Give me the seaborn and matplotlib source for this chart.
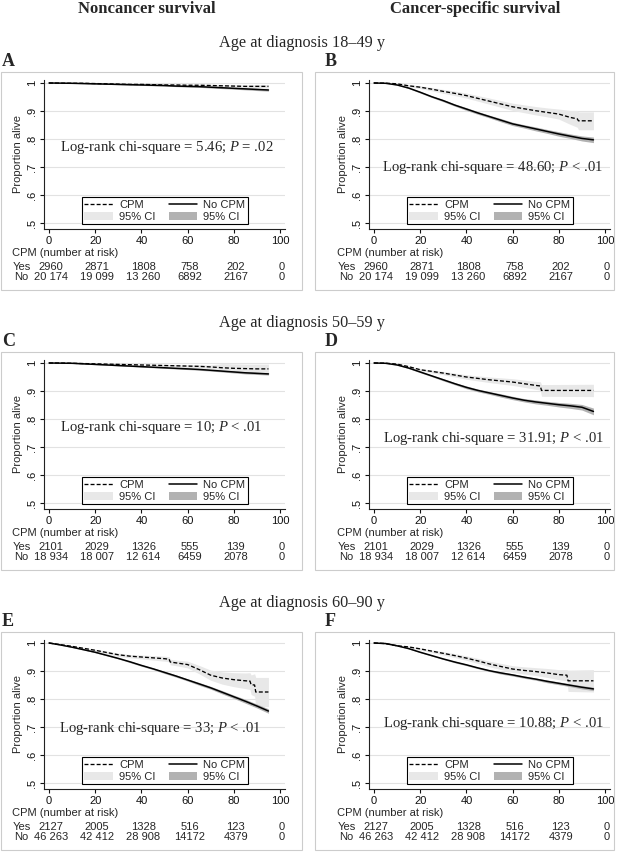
import matplotlib.pyplot as plt
import matplotlib.transforms as mtransforms
from matplotlib.patches import Rectangle, Patch
from matplotlib.lines import Line2D
import seaborn as sns

sns.set_theme(style="ticks")
plt.rcParams.update({
    "font.family": "Liberation Sans",
    "mathtext.fontset": "custom",
    "mathtext.rm": "Liberation Serif",
    "mathtext.it": "Liberation Serif:italic",
    "axes.linewidth": 0.8,
    "axes.edgecolor": "#222222",
})

W, H = 624, 852

# follow-up time grid (months) for the No CPM curves
months = [0, 5, 10, 15, 20, 25, 30, 35, 40, 45, 50, 55, 60, 65, 70, 75, 80, 85, 90, 95]

# A: noncancer survival, 18-49 y
A_no = [1, .9995, .999, .998, .997, .996, .995, .994, .993, .992, .991, .989, .988, .987, .985, .983, .981, .979, .977, .975]
A_no_ci = [0, 0, .0005, .0005, .001, .001, .001, .0015, .0015, .002, .002, .002, .0025, .0025, .003, .003, .003, .0035, .004, .004]
A_cpm_t = months
A_cpm = [1, .9995, .999, .999, .998, .997, .996, .995, .995, .994, .993, .993, .992, .992, .991, .990, .989, .988, .988, .988]
A_cpm_ci = [0, 0, .001, .001, .001, .002, .002, .002, .002, .003, .003, .003, .003, .004, .004, .004, .005, .005, .006, .006]

# B: cancer-specific survival, 18-49 y
B_no = [1, .999, .993, .982, .967, .951, .937, .921, .907, .893, .880, .867, .854, .845, .836, .827, .818, .810, .802, .797]
B_no_ci = [0, 0, .001, .002, .003, .003, .004, .004, .005, .005, .005, .006, .006, .006, .007, .007, .008, .008, .009, .010]
B_cpm_t = [0, 5, 10, 15, 20, 25, 30, 35, 40, 45, 50, 55, 60, 65, 70, 75, 80, 85, 88, 88.5, 95]
B_cpm = [1, .9995, .997, .990, .985, .978, .970, .963, .955, .945, .935, .925, .915, .908, .901, .895, .889, .877, .872, .865, .865]
B_cpm_ci = [0, .001, .002, .004, .005, .006, .007, .008, .009, .010, .011, .012, .013, .014, .015, .016, .018, .025, .030, .032, .032]

# C: noncancer survival, 50-59 y
C_no = [1, .9995, .999, .997, .995, .993, .991, .989, .987, .985, .983, .981, .979, .977, .974, .971, .968, .965, .963, .961]
C_no_ci = [0, 0, .0005, .001, .001, .001, .0015, .0015, .002, .002, .002, .0025, .0025, .003, .003, .003, .0035, .004, .004, .004]
C_cpm_t = months
C_cpm = [1, 1, .999, .998, .997, .996, .995, .994, .993, .992, .991, .990, .989, .988, .986, .983, .981, .980, .979, .979]
C_cpm_ci = [0, 0, .001, .001, .002, .002, .003, .003, .003, .004, .004, .004, .005, .006, .007, .015, .016, .016, .017, .017]

# D: cancer-specific survival, 50-59 y
D_no = [1, .999, .993, .982, .968, .954, .940, .926, .913, .902, .893, .884, .875, .867, .861, .856, .851, .847, .842, .827]
D_no_ci = [0, 0, .001, .002, .003, .003, .004, .004, .005, .005, .005, .006, .006, .006, .007, .007, .008, .009, .010, .012]
D_cpm_t = [0, 5, 10, 15, 20, 25, 30, 35, 40, 45, 50, 55, 60, 65, 70, 72, 72.5, 95]
D_cpm = [1, .9995, .996, .987, .976, .970, .964, .957, .950, .945, .940, .936, .932, .926, .920, .918, .902, .902]
D_cpm_ci = [0, .001, .002, .003, .004, .005, .006, .007, .008, .009, .010, .011, .012, .013, .014, .015, .021, .022]

# E: noncancer survival, 60-90 y
E_no = [1, .993, .985, .976, .967, .956, .945, .933, .920, .908, .895, .882, .868, .854, .840, .824, .808, .792, .775, .757]
E_no_ci = [0, .001, .001, .001, .002, .002, .002, .003, .003, .003, .004, .004, .004, .005, .005, .006, .006, .007, .007, .008]
E_cpm_t = [0, 5, 10, 15, 20, 25, 30, 35, 40, 45, 50, 52, 52.5, 55, 60, 65, 70, 75, 80, 85, 87, 87.5, 89, 89.5, 95]
E_cpm = [1, .994, .988, .981, .974, .966, .958, .953, .950, .947, .944, .942, .932, .929, .923, .905, .885, .875, .869, .865, .864, .851, .850, .825, .825]
E_cpm_ci = [0, .001, .002, .003, .004, .005, .006, .006, .007, .008, .009, .009, .010, .010, .012, .015, .018, .022, .025, .028, .030, .035, .040, .052, .052]

# F: cancer-specific survival, 60-90 y
F_no = [1, .998, .990, .980, .967, .955, .943, .932, .922, .911, .901, .893, .886, .878, .871, .863, .856, .849, .842, .836]
F_no_ci = [0, 0, .001, .001, .002, .002, .002, .003, .003, .003, .003, .004, .004, .004, .004, .005, .005, .005, .006, .006]
F_cpm_t = [0, 5, 10, 15, 20, 25, 30, 35, 40, 45, 50, 55, 60, 65, 70, 75, 80, 83.5, 84, 95]
F_cpm = [1, .998, .990, .986, .979, .971, .963, .955, .946, .936, .925, .916, .907, .902, .898, .893, .887, .885, .865, .865]
F_cpm_ci = [0, .001, .002, .003, .004, .005, .006, .007, .008, .009, .010, .011, .012, .013, .014, .016, .018, .020, .038, .040]

# number at risk
risk_ticks = [0, 20, 40, 60, 80, 100]
yes_1849 = ["2960", "2871", "1808", "758", "202", "0"]
no_1849 = ["20 174", "19 099", "13 260", "6892", "2167", "0"]
yes_5059 = ["2101", "2029", "1326", "555", "139", "0"]
no_5059 = ["18 934", "18 007", "12 614", "6459", "2078", "0"]
yes_6090 = ["2127", "2005", "1328", "516", "123", "0"]
no_6090 = ["46 263", "42 412", "28 908", "14172", "4379", "0"]

row_titles = ["Age at diagnosis 18\u201349 y", "Age at diagnosis 50\u201359 y", "Age at diagnosis 60\u201390 y"]
col_titles = ["Noncancer survival", "Cancer-specific survival"]

logrank = [
    (r"Log-rank chi-square = 5.46; $P$ = .02", 51, .768),
    (r"Log-rank chi-square = 48.60; $P$ < .01", 51.5, .700),
    (r"Log-rank chi-square = 10; $P$ < .01", 48.5, .768),
    (r"Log-rank chi-square = 31.91; $P$ < .01", 51.8, .732),
    (r"Log-rank chi-square = 33; $P$ < .01", 48, .696),
    (r"Log-rank chi-square = 10.88; $P$ < .01", 51.8, .714),
]

panels = [
    ("A", 0, 0, A_no, A_no_ci, A_cpm_t, A_cpm, A_cpm_ci, yes_1849, no_1849),
    ("B", 0, 1, B_no, B_no_ci, B_cpm_t, B_cpm, B_cpm_ci, yes_1849, no_1849),
    ("C", 1, 0, C_no, C_no_ci, C_cpm_t, C_cpm, C_cpm_ci, yes_5059, no_5059),
    ("D", 1, 1, D_no, D_no_ci, D_cpm_t, D_cpm, D_cpm_ci, yes_5059, no_5059),
    ("E", 2, 0, E_no, E_no_ci, E_cpm_t, E_cpm, E_cpm_ci, yes_6090, no_6090),
    ("F", 2, 1, F_no, F_no_ci, F_cpm_t, F_cpm, F_cpm_ci, yes_6090, no_6090),
]

LIGHT = "#e8e8e8"
DARK = "#b2b2b2"
PX = 2.31          # pixels per month
PY = 280           # pixels per unit of survival
col_x0 = [49, 374]
col_box = [(1, 302), (315, 614)]
col_letter = [2, 325]
row_y1 = [83, 363, 643]
SERIF = "Liberation Serif"
FS = 8

fig = plt.figure(figsize=(W / 100, H / 100), dpi=100)


def fx(px):
    return px / W


def fy(py):
    return 1 - py / H


for c, title in enumerate(col_titles):
    fig.text(fx([147, 475][c]), fy(9), title, ha="center", va="center",
             family=SERIF, fontweight="bold", fontsize=12)
for r, title in enumerate(row_titles):
    fig.text(fx(302), fy(row_y1[r] - 40), title, ha="center", va="center",
             family=SERIF, fontsize=11.7)

for i, (letter, r, c, s_no, ci_no, t_cpm, s_cpm, ci_cpm, yes, no) in enumerate(panels):
    x0 = col_x0[c]
    y1 = row_y1[r]
    left, right = x0 - 2 * PX, x0 + 102.2 * PX
    top, bottom = y1 - 0.012 * PY, y1 + 0.521 * PY
    ax = fig.add_axes([fx(left), fy(bottom), fx(right - left), (bottom - top) / H])

    # panel frame and letter
    b0, b1 = col_box[c]
    fig.patches.append(Rectangle((fx(b0), fy(y1 + 207)), fx(b1 - b0), (218) / H,
                                 transform=fig.transFigure, fill=False,
                                 edgecolor="#cccccc", lw=0.8))
    fig.text(fx(col_letter[c]), fy(y1 - 21), letter, ha="left", va="center",
             family=SERIF, fontweight="bold", fontsize=13)

    lo_cpm = [s - e for s, e in zip(s_cpm, ci_cpm)]
    hi_cpm = [s + e for s, e in zip(s_cpm, ci_cpm)]
    lo_no = [s - e for s, e in zip(s_no, ci_no)]
    hi_no = [s + e for s, e in zip(s_no, ci_no)]
    ax.fill_between(t_cpm, lo_cpm, hi_cpm, color=LIGHT, lw=0, zorder=1)
    ax.fill_between(months, lo_no, hi_no, color=DARK, lw=0, zorder=2)
    sns.lineplot(x=months, y=s_no, ax=ax, color="black", lw=1.1,
                 estimator=None, zorder=4)
    sns.lineplot(x=t_cpm, y=s_cpm, ax=ax, color="black", lw=0.95,
                 linestyle=(0, (3, 1.6)), estimator=None, zorder=3)

    ax.set_xlim(-2, 102.2)
    ax.set_ylim(0.479, 1.012)
    ax.set_xticks([0, 20, 40, 60, 80, 100])
    ax.set_yticks([.5, .6, .7, .8, .9, 1])
    ax.set_yticklabels([".5", ".6", ".7", ".8", ".9", "1"], rotation=90, va="center")
    ax.yaxis.grid(True, color="#e2e2e2", lw=0.8)
    ax.xaxis.grid(False)
    ax.set_axisbelow(True)
    ax.tick_params(direction="out", length=3, width=0.8, pad=2, labelsize=FS, colors="#111111")
    ax.set_ylabel("Proportion alive", fontsize=FS, labelpad=3)
    ax.set_xlabel("")
    sns.despine(ax=ax)

    txt, tx, ty = logrank[i]
    ax.text(tx, ty, txt, ha="center", va="center", family=SERIF, fontsize=10.6)

    handles = [Line2D([], [], color="black", lw=0.95, linestyle=(0, (3, 1.6))),
               Patch(facecolor=LIGHT, edgecolor="none"),
               Line2D([], [], color="black", lw=1.1),
               Patch(facecolor=DARK, edgecolor="none")]
    leg = ax.legend(handles, ["CPM", "95% CI", "No CPM", "95% CI"], ncol=2,
                    loc="lower center", bbox_to_anchor=(0.5, 0.03), frameon=True,
                    fancybox=False, framealpha=1, edgecolor="black", fontsize=FS,
                    handlelength=2.6, handleheight=0.8, columnspacing=1.2,
                    borderpad=0.25, labelspacing=0.15, handletextpad=0.5,
                    borderaxespad=0)
    leg.get_frame().set_linewidth(0.8)

    # number-at-risk table
    trans = mtransforms.blended_transform_factory(ax.transData, ax.transAxes)
    ax.text(-16, -(170 - 145.9) / 149.3, "CPM (number at risk)", transform=trans,
            ha="left", va="center", fontsize=FS, clip_on=False)
    ax.text(-15.6, -(183.7 - 145.9) / 149.3, "Yes", transform=trans,
            ha="left", va="center", fontsize=FS, clip_on=False)
    ax.text(-15.2, -(193.7 - 145.9) / 149.3, "No", transform=trans,
            ha="left", va="center", fontsize=FS, clip_on=False)
    for t, a, b in zip(risk_ticks, yes, no):
        ax.text(t + 0.8, -(183.7 - 145.9) / 149.3, a, transform=trans, ha="center",
                va="center", fontsize=FS, clip_on=False)
        ax.text(t + 0.8, -(193.7 - 145.9) / 149.3, b, transform=trans, ha="center",
                va="center", fontsize=FS, clip_on=False)

fig.savefig("out.png", dpi=100)
